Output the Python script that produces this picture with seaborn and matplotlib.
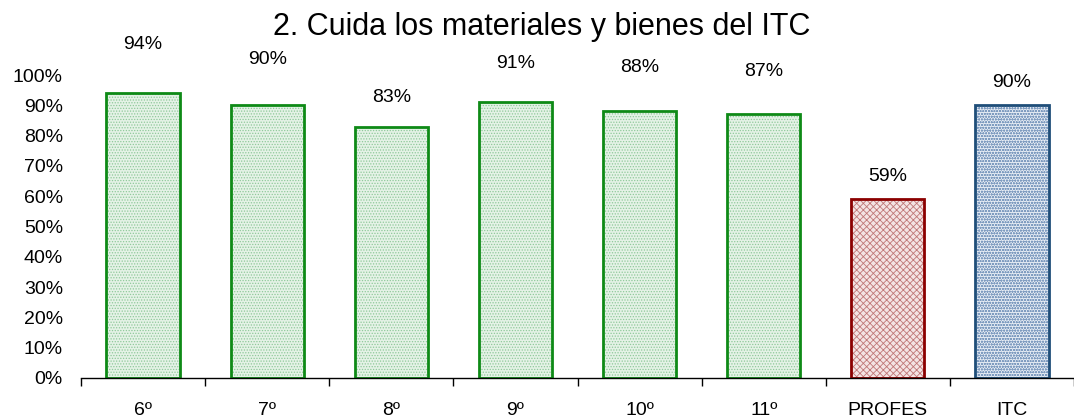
import matplotlib
matplotlib.use('Agg')
import matplotlib.pyplot as plt
from matplotlib.ticker import PercentFormatter, FixedLocator
import seaborn as sns

categories = ['6º', '7º', '8º', '9º', '10º', '11º', 'PROFES', 'ITC']
values = [0.94, 0.90, 0.83, 0.91, 0.88, 0.87, 0.59, 0.90]
value_labels = ['94%', '90%', '83%', '91%', '88%', '87%', '59%', '90%']
title = '2. Cuida los materiales y bienes del ITC'

# label offsets above bar tops (pixels), as placed in the original
label_offsets = [49, 46, 29, 39, 44, 43, 23, 23]

green_edge, green_hatch, green_fill = '#0e8a16', '#8fc99a', '#e4f2e6'
red_edge, red_hatch, red_fill = '#8b0000', '#c07878', '#f4e4e4'
blue_edge, blue_hatch, blue_fill = '#1f4e79', '#7f9cc0', '#e6ecf4'
edges = [green_edge] * 6 + [red_edge, blue_edge]
hatch_cols = [green_hatch] * 6 + [red_hatch, blue_hatch]
fills = [green_fill] * 6 + [red_fill, blue_fill]
hatches = ['......'] * 6 + ['xxxxx', 'oooooo']

sns.set_style('white')
plt.rcParams['font.family'] = ['Liberation Sans', 'DejaVu Sans']
plt.rcParams['hatch.linewidth'] = 0.6

fig = plt.figure(figsize=(10.74, 4.17), dpi=100)
ax = fig.add_axes([81 / 1074, 39 / 417, 993 / 1074, 303 / 417])

# hatched fill layer
sns.barplot(x=categories, y=values, hue=categories, palette=dict(zip(categories, fills)),
            legend=False, width=0.59, ax=ax, linewidth=0, saturation=1)
for patch, hc, h in zip(ax.patches, hatch_cols, hatches):
    patch.set_edgecolor(hc)
    patch.set_hatch(h)
    patch.set_linewidth(0)

# outline layer
sns.barplot(x=categories, y=values, fill=False, width=0.59, ax=ax,
            edgecolor='k', linewidth=2, errorbar=None)
outlines = ax.patches[len(categories):]
for patch, ec in zip(outlines, edges):
    patch.set_edgecolor(ec)
    patch.set_linewidth(2)

for i, (v, lab, off) in enumerate(zip(values, value_labels, label_offsets)):
    ax.annotate(lab, (i, v), xytext=(0, off), textcoords='offset pixels',
                ha='center', va='center', fontsize=14, color='black')

ax.set_xlim(-0.5, len(categories) - 0.5)
ax.set_ylim(0, 1)
ax.yaxis.set_major_locator(FixedLocator([i / 10 for i in range(11)]))
ax.yaxis.set_major_formatter(PercentFormatter(1.0, decimals=0))
ax.tick_params(axis='y', length=0, pad=13, labelsize=14, colors='black')
ax.tick_params(axis='x', which='major', length=0, pad=17, labelsize=14, colors='black')
ax.xaxis.set_minor_locator(FixedLocator([i - 0.5 for i in range(len(categories) + 1)]))
ax.tick_params(axis='x', which='minor', bottom=True, length=6, width=1,
               color='black', direction='out')
ax.set_xlabel('')
ax.set_ylabel('')

for s in ['top', 'right', 'left']:
    ax.spines[s].set_visible(False)
ax.spines['bottom'].set_color('black')
ax.spines['bottom'].set_linewidth(1)

fig.text(0.504, (417 - 35) / 417, title, ha='center', va='baseline',
         fontsize=22, color='black')

fig.savefig('out.png', dpi=100)
